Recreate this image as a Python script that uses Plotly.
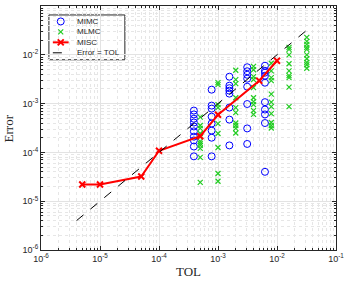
import plotly.graph_objects as go

# MIMC: TOL columns and error values per column
mimc_tol = [3.9e-4, 7.8e-4, 1.56e-3, 3.125e-3, 6.25e-3]
mimc_err = [
    [7.2e-4, 6.0e-4, 4.9e-4, 4.1e-4, 3.4e-4, 2.7e-4, 2.1e-4, 1.76e-4, 1.32e-4, 8.3e-5],
    [1.93e-3, 9.1e-4, 7.9e-4, 5.4e-4, 3.9e-4, 2.8e-4, 2.0e-4, 8.3e-5],
    [3.56e-3, 2.33e-3, 2.07e-3, 1.84e-3, 1.6e-3, 8.3e-4, 4.7e-4, 1.39e-4],
    [5.56e-3, 4.6e-3, 3.9e-3, 3.24e-3, 2.22e-3, 9.8e-4, 3.1e-4, 1.49e-4],
    [5.97e-3, 4.71e-3, 4.3e-3, 3.73e-3, 2.68e-3, 1.07e-3, 7.55e-4, 6.0e-4, 4.0e-4, 4.0e-5],
]

# MLMC
mlmc_tol = [5e-4, 1e-3, 2e-3, 4e-3, 8e-3, 1.6e-2, 3.2e-2]
mlmc_err = [
    [5.3e-4, 3.56e-4, 3.1e-4, 2.44e-4, 2.12e-4, 1.68e-4, 1.53e-4, 1.39e-4, 1.21e-4, 7.9e-5, 2.44e-5],
    [2.69e-3, 2.44e-3, 9.5e-4, 8.3e-4, 6.0e-4, 3.9e-4, 2.44e-4, 1.26e-4, 3.7e-5, 2.56e-5],
    [4.83e-3, 3.09e-3, 2.56e-3, 1.32e-3, 8.3e-4, 6.55e-4, 4.0e-4, 3.56e-4, 3.1e-4, 2.5e-4],
    [5.8e-3, 4.94e-3, 3.56e-3, 3.09e-3, 2.12e-3, 1.32e-3, 1.1e-3, 9.5e-4, 7.2e-4, 6.0e-4],
    [6.7e-3, 4.7e-3, 3.4e-3, 2.95e-3, 1.56e-3, 1.07e-3, 8.7e-4, 6.25e-4, 4.1e-4, 3.56e-4, 3.16e-4],
    [1.42e-2, 1.29e-2, 1.0e-2, 6.55e-3, 4.7e-3, 3.73e-3, 3.4e-3, 2.17e-3, 8.7e-4],
    [2.28e-2, 1.89e-2, 1.64e-2, 1.42e-2, 1.29e-2, 1.0e-2, 8.3e-3, 7.0e-3, 6.25e-3, 5.3e-3],
]

# MISC
misc_tol = [5e-6, 1e-5, 5e-5, 1e-4, 5e-4, 1e-3, 5e-3, 1e-2]
misc_err = [2.2e-5, 2.2e-5, 3.2e-5, 1.08e-4, 2.15e-4, 5.9e-4, 2.95e-3, 7.55e-3]

# Error = TOL reference line
ref_tol = [4e-6, 4e-2]

tick_vals = [1e-6, 1e-5, 1e-4, 1e-3, 1e-2, 1e-1]
tick_text = ["10<sup>-6</sup>", "10<sup>-5</sup>", "10<sup>-4</sup>",
             "10<sup>-3</sup>", "10<sup>-2</sup>", "10<sup>-1</sup>"]

legend_names = ["MIMC", "MLMC", "MISC", "Error = TOL"]

BLUE = "#0000ff"
GREEN = "#22cc22"
RED = "#ff0000"
DARK = "#262626"

# layout geometry (pixels)
W, H = 349, 282
L, R, T, B = 41, 9, 5, 32
PW, PH = W - L - R, H - T - B


def px(x):
    return (x - L) / PW


def py(y):
    return 1 - (y - T) / PH


def expand(tols, errs):
    xs, ys = [], []
    for t, col in zip(tols, errs):
        for e in col:
            xs.append(t)
            ys.append(e)
    return xs, ys


mx, my = expand(mimc_tol, mimc_err)
lx, ly = expand(mlmc_tol, mlmc_err)

mimc_marker = dict(symbol="circle-open", size=7, color=BLUE, line=dict(width=1, color=BLUE))
mlmc_marker = dict(symbol="x-thin-open", size=5, color=GREEN, line=dict(width=1.2, color=GREEN))
misc_marker = dict(symbol="x-thin-open", size=6, color=RED, line=dict(width=2, color=RED))

fig = go.Figure()
fig.add_trace(go.Scatter(x=mx, y=my, mode="markers", name="MIMC", marker=mimc_marker))
fig.add_trace(go.Scatter(x=lx, y=ly, mode="markers", name="MLMC", marker=mlmc_marker))
fig.add_trace(go.Scatter(x=misc_tol, y=misc_err, mode="lines+markers", name="MISC",
                         line=dict(color=RED, width=2), marker=misc_marker))
fig.add_trace(go.Scatter(x=ref_tol, y=ref_tol, mode="lines", name="Error = TOL",
                         line=dict(color="black", width=1, dash="dash")))

# ---- custom compact legend (MATLAB style) ----
leg_x0, leg_x1, leg_y0, leg_y1 = 49, 126, 14, 59
row_y = [20.5, 31, 41.5, 52]
sym_x = 61
seg = (53, 69)
text_x = 75

shapes = [dict(type="rect", xref="paper", yref="paper",
               x0=px(leg_x0), x1=px(leg_x1), y0=py(leg_y1), y1=py(leg_y0),
               line=dict(color=DARK, width=1), fillcolor="white", layer="between")]
shapes.append(dict(type="line", xref="paper", yref="paper",
                   x0=px(seg[0]), x1=px(seg[1]), y0=py(row_y[2]), y1=py(row_y[2]),
                   line=dict(color=RED, width=2), layer="above"))
shapes.append(dict(type="line", xref="paper", yref="paper",
                   x0=px(seg[0]), x1=px(seg[1]), y0=py(row_y[3]), y1=py(row_y[3]),
                   line=dict(color="black", width=1, dash="dash"), layer="above"))

# legend marker samples on an overlay linear axis spanning the plot area
fig.add_trace(go.Scatter(x=[px(sym_x)], y=[py(row_y[0])], xaxis="x2", yaxis="y2",
                         mode="markers", marker=mimc_marker, showlegend=False, hoverinfo="skip"))
fig.add_trace(go.Scatter(x=[px(sym_x)], y=[py(row_y[1])], xaxis="x2", yaxis="y2",
                         mode="markers", marker=mlmc_marker, showlegend=False, hoverinfo="skip"))
fig.add_trace(go.Scatter(x=[px(sym_x)], y=[py(row_y[2])], xaxis="x2", yaxis="y2",
                         mode="markers", marker=misc_marker, showlegend=False, hoverinfo="skip"))

annotations = []
for name, yy in zip(legend_names, row_y):
    annotations.append(dict(xref="paper", yref="paper", x=px(text_x), y=py(yy),
                            text=name, showarrow=False, xanchor="left", yanchor="middle",
                            font=dict(family="Liberation Sans, Arial", size=8, color=DARK)))

# axis titles
annotations.append(dict(xref="paper", yref="paper", x=0.5, y=py(272), text="TOL",
                        showarrow=False, xanchor="center", yanchor="middle",
                        font=dict(family="Liberation Serif, Times New Roman", size=13, color=DARK)))
annotations.append(dict(xref="paper", yref="paper", x=px(8), y=0.5, text="Error",
                        showarrow=False, xanchor="center", yanchor="middle", textangle=-90,
                        font=dict(family="Liberation Serif, Times New Roman", size=13, color=DARK)))

axis_common = dict(
    type="log", range=[-6, -1], tickvals=tick_vals, ticktext=tick_text,
    showline=True, linecolor=DARK, linewidth=1, mirror="allticks",
    ticks="inside", ticklen=4, tickcolor=DARK,
    showgrid=True, gridcolor="#e3e3e3", gridwidth=1, zeroline=False,
    tickfont=dict(family="Liberation Sans, Arial", size=9, color=DARK),
    minor=dict(ticks="inside", ticklen=2, tickcolor=DARK, dtick="D1",
               showgrid=True, gridcolor="#e6e6e6", griddash="dot"),
)

fig.update_layout(xaxis=axis_common, yaxis=axis_common)
fig.update_layout(
    xaxis2=dict(range=[0, 1], overlaying="x", visible=False, fixedrange=True),
    yaxis2=dict(range=[0, 1], overlaying="y", visible=False, fixedrange=True),
)

fig.update_layout(
    width=W, height=H,
    margin=dict(l=L, r=R, t=T, b=B),
    plot_bgcolor="white", paper_bgcolor="white",
    showlegend=False,
    shapes=shapes, annotations=annotations,
)

fig.write_html("out.html", config={"displayModeBar": False},
               post_script="document.body.style.margin='0';document.body.style.padding='0';")
